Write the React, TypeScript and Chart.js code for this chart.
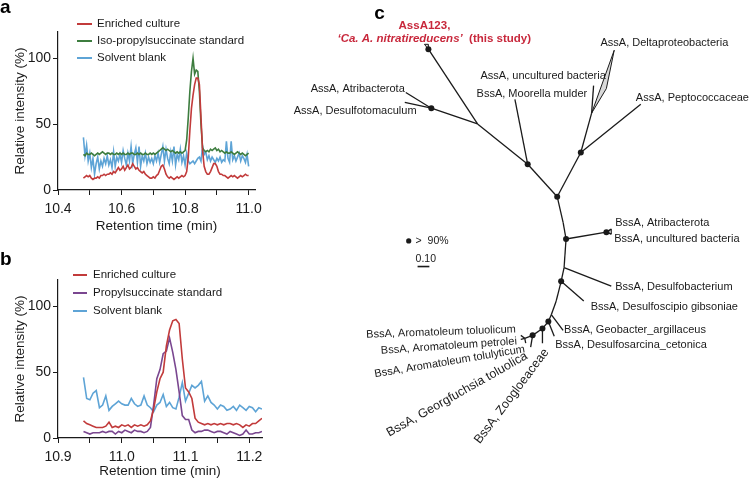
import React, { useEffect, useRef } from 'react';
import { Chart, registerables } from 'chart.js';

Chart.register(...registerables);

const FONT = '"Liberation Sans", Arial, Helvetica, sans-serif';
const INK = '#1a1a1a';
const RED = '#c23b3b';
const GREEN = '#3d7d3f';
const BLUE = '#5ea4d6';
const PURPLE = '#7a4790';
const RED_TEXT = '#c8283c';

// ---------------- Panel a (retention time, min / relative intensity, %) ----------------
const TIME_A = [
  10.48, 10.485, 10.49, 10.495, 10.5, 10.505, 10.51, 10.515, 10.52, 10.525,
  10.53, 10.535, 10.54, 10.545, 10.55, 10.555, 10.56, 10.565, 10.57, 10.575,
  10.58, 10.585, 10.59, 10.595, 10.6, 10.605, 10.61, 10.615, 10.62, 10.625,
  10.63, 10.635, 10.64, 10.645, 10.65, 10.655, 10.66, 10.665, 10.67, 10.675,
  10.68, 10.685, 10.69, 10.695, 10.7, 10.705, 10.71, 10.715, 10.72, 10.725,
  10.73, 10.735, 10.74, 10.745, 10.75, 10.755, 10.76, 10.765, 10.77, 10.775,
  10.78, 10.785, 10.79, 10.795, 10.8, 10.805, 10.81, 10.815, 10.82, 10.825,
  10.83, 10.835, 10.84, 10.845, 10.85, 10.855, 10.86, 10.865, 10.87, 10.875,
  10.88, 10.885, 10.89, 10.895, 10.9, 10.905, 10.91, 10.915, 10.92, 10.925,
  10.93, 10.935, 10.94, 10.945, 10.95, 10.955, 10.96, 10.965, 10.97, 10.975,
  10.98, 10.985, 10.99, 10.995, 11.0,
];
const ENRICHED_A = [
  9, 10, 11, 10, 11, 9, 8, 9, 9, 10,
  9, 11, 11, 12, 11, 12, 12, 13, 12, 14,
  13, 15, 17, 15, 16, 18, 15, 17, 19, 16,
  17, 20, 18, 16, 17, 15, 14, 13, 14, 12,
  11, 10, 9, 9, 10, 9, 11, 12, 15, 18,
  19, 16, 12, 10, 9, 10, 9, 8, 9, 10,
  9, 10, 11, 10, 11, 14, 25, 45, 62, 72,
  80, 85, 85, 80, 55, 30, 18, 14, 12, 12,
  14, 17, 20, 20, 18, 14, 12, 12, 11, 11,
  10, 9, 10, 11, 10, 11, 10, 9, 10, 11,
  10, 11, 12, 11, 11,
];
const ISO_STANDARD_A = [
  27, 26, 28, 27, 27, 28, 27, 26, 27, 28,
  27, 28, 29, 28, 27, 28, 28, 27, 28, 27,
  27, 28, 27, 28, 27, 28, 27, 27, 28, 27,
  28, 28, 27, 27, 28, 27, 28, 27, 27, 28,
  27, 27, 28, 27, 28, 27, 28, 29, 30, 31,
  32, 31, 30, 31, 30, 29, 30, 29, 28, 29,
  28, 29, 28, 29, 30, 38, 55, 75, 90, 100,
  88, 91, 90, 75, 50, 32, 30, 29, 30, 29,
  31, 30, 31, 32, 30, 31, 29, 30, 29, 28,
  29, 28, 28, 29, 28, 27, 28, 29, 28, 27,
  28, 27, 26, 27, 28,
];
const BLANK_A = [
  40, 26, 34, 22, 28, 17, 24, 12, 20, 25,
  16, 22, 18, 24, 20, 26, 19, 23, 17, 29,
  18, 25, 22, 27, 21, 30, 24, 19, 28, 22,
  33, 20, 27, 32, 21, 33, 18, 26, 22, 28,
  20, 25, 21, 24, 20, 26, 22, 28, 21, 27,
  33, 22, 31, 24, 20, 29, 22, 33, 19, 27,
  23, 31, 21, 26, 19, 28, 22, 20, 21, 22,
  20, 22, 24, 25, 22, 33, 27, 29, 23, 26,
  22, 25, 23, 21, 24, 22, 25, 21, 23, 22,
  37, 24, 21, 37, 23, 26, 22, 25, 28, 22,
  26, 24, 21, 27, 18,
];
const LABELS_A = ['Enriched culture', 'Iso-propylsuccinate standard', 'Solvent blank'];

// ---------------- Panel b ----------------
const TIME_B = [
  10.94, 10.945, 10.95, 10.955, 10.96, 10.965, 10.97, 10.975, 10.98, 10.985,
  10.99, 10.995, 11.0, 11.005, 11.01, 11.015, 11.02, 11.025, 11.03, 11.035,
  11.04, 11.045, 11.05, 11.055, 11.06, 11.065, 11.07, 11.075, 11.08, 11.085,
  11.09, 11.095, 11.1, 11.105, 11.11, 11.115, 11.12, 11.125, 11.13, 11.135,
  11.14, 11.145, 11.15, 11.155, 11.16, 11.165, 11.17, 11.175, 11.18, 11.185,
  11.19, 11.195, 11.2, 11.205, 11.21, 11.215, 11.22,
];
const ENRICHED_B = [
  13, 11, 10, 9, 8, 8, 8, 9, 12, 8,
  9, 8, 10, 9, 10, 8, 10, 9, 10, 9,
  10, 13, 22, 35, 45, 50, 70, 82, 89, 90,
  87, 60, 38, 35, 30, 15, 12, 11, 10, 11,
  10, 11, 10, 11, 10, 11, 11, 10, 11, 10,
  8, 10, 9, 11, 11, 13, 15,
];
const PROPYL_STANDARD_B = [
  5, 4, 3, 4, 4, 4, 5, 4, 5, 5,
  3, 5, 4, 6, 5, 4, 6, 5, 5, 4,
  5, 8, 25, 45, 52, 64, 66, 76, 65, 52,
  35, 17, 14, 14, 6, 4, 5, 5, 6, 6,
  5, 4, 5, 5, 4, 3, 5, 4, 3, 2,
  3, 6, 3, 3, 4, 4, 5,
];
const BLANK_B = [
  46, 30, 29, 34, 36, 23, 25, 32, 21, 24,
  26, 28, 26, 25, 25, 30, 26, 24, 25, 32,
  25, 23, 20, 25, 27, 33, 24, 27, 23, 22,
  31, 42, 28, 34, 40, 38, 40, 43, 28, 32,
  27, 25, 22, 25, 24, 21, 22, 24, 21, 25,
  23, 21, 24, 23, 20, 23, 22,
];
const LABELS_B = ['Enriched culture', 'Propylsuccinate standard', 'Solvent blank'];

// ---------------- Panel c (tree) ----------------
const TREE_NODES: [string, number, number][] = [
  ['root', 558, 196], ['A', 528, 163], ['B', 582, 151], ['C', 477, 122],
  ['D', 430, 106], ['ca', 427, 46], ['aAtrib', 404, 90], ['aDesulfot', 403, 100],
  ['moorella', 515, 97], ['J1', 593, 111], ['aUnc', 595, 83], ['pepto', 643, 102],
  ['P1', 564, 222], ['E', 567, 239], ['EB', 608, 232], ['bAtrib', 613, 229], ['bUnc', 613, 234],
  ['P2', 565, 268], ['desulfobact', 613, 287], ['F', 562, 282], ['desulfoscipio', 585, 302],
  ['P3', 557, 302], ['P4', 552, 316], ['geob', 564, 332], ['G', 549, 323], ['desulfosarc', 555, 338],
  ['H', 543, 330], ['zoog', 543, 345], ['I', 533, 337], ['georg', 531, 349], ['K', 525, 340],
  ['aromTol', 521, 337], ['aromPet', 521, 341], ['aromTolu', 526, 345],
];
const TREE_EDGES: [string, string][] = [
  ['root', 'A'], ['root', 'B'], ['A', 'C'], ['C', 'D'], ['C', 'ca'], ['D', 'aAtrib'], ['D', 'aDesulfot'],
  ['A', 'moorella'], ['B', 'J1'], ['J1', 'aUnc'], ['B', 'pepto'],
  ['root', 'P1'], ['P1', 'E'], ['E', 'EB'], ['EB', 'bAtrib'], ['EB', 'bUnc'], ['E', 'P2'], ['P2', 'desulfobact'],
  ['P2', 'F'], ['F', 'desulfoscipio'], ['F', 'P3'], ['P3', 'P4'], ['P4', 'geob'], ['P4', 'G'], ['G', 'desulfosarc'],
  ['G', 'H'], ['H', 'zoog'], ['H', 'I'], ['I', 'georg'], ['I', 'K'], ['K', 'aromTol'], ['K', 'aromPet'], ['K', 'aromTolu'],
];
const SUPPORTED_NODES = ['root', 'A', 'B', 'D', 'ca', 'E', 'EB', 'F', 'G', 'H', 'I'];
const COLLAPSED_CLADES: [number, number][][] = [
  [[593, 111], [616, 47], [608, 86]],
  [[427, 46], [423, 41], [427, 41]],
  [[608, 232], [613, 229], [613, 234]],
];
// [text, x, y, align, angle (deg), font size]
const TREE_LABELS: [string, number, number, CanvasTextAlign, number, number][] = [
  ['AssA, Atribacterota', 403, 86, 'right', 0, 11],
  ['AssA, Desulfotomaculum', 415, 109, 'right', 0, 11],
  ['BssA, Moorella mulder', 476, 92, 'left', 0, 11],
  ['AssA, uncultured bacteria', 480, 73, 'left', 0, 11],
  ['AssA, Deltaproteobacteria', 602, 40, 'left', 0, 11],
  ['AssA, Peptococcaceae', 638, 96, 'left', 0, 11],
  ['BssA, Atribacterota', 617, 223, 'left', 0, 11],
  ['BssA, uncultured bacteria', 616, 239, 'left', 0, 11],
  ['BssA, Desulfobacterium', 617, 288, 'left', 0, 11],
  ['BssA, Desulfoscipio gibsoniae', 592, 308, 'left', 0, 11],
  ['BssA, Geobacter_argillaceus', 565, 332, 'left', 0, 11],
  ['BssA, Desulfosarcina_cetonica', 556, 347, 'left', 0, 11],
  ['BssA, Aromatoleum toluolicum', 516, 331, 'right', -2, 11],
  ['BssA, Aromatoleum petrolei', 517, 343, 'right', -4, 11],
  ['BssA, Aromatoleum tolulyticum', 525, 351, 'right', -9.5, 11],
  ['BssA, Georgfuchsia toluolica', 527, 357, 'right', -29.5, 12.5],
  ['BssA, Zoogloeaceae', 547, 352, 'right', -53, 12.5],
];
const HIGHLIGHT_TITLE = ['AssA123,', '\u2018Ca. A. nitratireducens\u2019', '  (this study)'];
const SUPPORT_LEGEND = '>  90%';
const SCALE_BAR_VALUE = 0.1;
const SCALE_BAR_PX_PER_UNIT = 120;

type Series = { label: string; color: string; data: number[] };
type PanelProps = {
  left: number; top: number; width: number; height: number;
  time: number[]; series: Series[];
  xMin: number; xMax: number; xStep: number;
  area: { left: number; top: number; right: number; bottom: number };
  legend: { x0: number; x1: number; textX: number; rows: number[] };
  letter: { text: string; x: number; y: number };
};

function ChromatogramPanel(p: PanelProps) {
  const ref = useRef<HTMLCanvasElement>(null);
  useEffect(() => {
    const canvas = ref.current;
    if (!canvas) return;
    const overlay = {
      id: 'overlay',
      afterDraw(chart: any) {
        const ctx = chart.ctx as CanvasRenderingContext2D;
        ctx.save();
        chart.data.datasets.forEach((ds: any, i: number) => {
          const y = p.legend.rows[i];
          ctx.strokeStyle = ds.borderColor;
          ctx.lineWidth = 2;
          ctx.beginPath();
          ctx.moveTo(p.legend.x0, y);
          ctx.lineTo(p.legend.x1, y);
          ctx.stroke();
          ctx.fillStyle = INK;
          ctx.font = `11.5px ${FONT}`;
          ctx.textAlign = 'left';
          ctx.textBaseline = 'middle';
          ctx.fillText(ds.label, p.legend.textX, y);
        });
        ctx.fillStyle = '#000';
        ctx.font = `bold 19px ${FONT}`;
        ctx.textBaseline = 'alphabetic';
        ctx.fillText(p.letter.text, p.letter.x, p.letter.y);
        ctx.restore();
      },
    };
    const tickFont = { family: FONT, size: 14 };
    const titleFont = { family: FONT, size: 13.5 };
    const chart = new Chart(canvas, {
      type: 'line',
      data: {
        labels: p.time,
        datasets: p.series.map((s) => ({
          label: s.label,
          data: s.data,
          borderColor: s.color,
          backgroundColor: s.color,
          borderWidth: 1.6,
          pointRadius: 0,
          tension: 0,
          fill: false,
        })),
      },
      options: {
        animation: false,
        responsive: false,
        maintainAspectRatio: false,
        events: [],
        layout: { padding: { top: p.area.top, left: 0, right: p.width - p.area.right, bottom: 0 } },
        plugins: { legend: { display: false }, tooltip: { enabled: false } },
        scales: {
          x: {
            type: 'linear',
            min: p.xMin,
            max: p.xMax,
            ticks: {
              stepSize: p.xStep,
              includeBounds: false,
              autoSkip: false,
              maxRotation: 0,
              padding: 6,
              color: INK,
              font: tickFont,
              callback: (v: any) => {
                const n = Math.round(Number(v) / p.xStep);
                return n % 2 === 0 ? Number(v).toFixed(1) : '';
              },
            },
            grid: { drawOnChartArea: false, drawTicks: true, tickLength: 5, color: INK, lineWidth: 1 },
            border: { display: true, color: INK, width: 1.2 },
            title: { display: true, text: 'Retention time (min)', color: INK, font: titleFont, padding: 0 },
            afterFit: (s: any) => {
              s.height = p.height - p.area.bottom;
              s.paddingLeft = 0;
              s.paddingRight = 0;
            },
          },
          y: {
            type: 'linear',
            min: 0,
            max: 120,
            ticks: { stepSize: 50, includeBounds: false, padding: 2, color: INK, font: tickFont },
            grid: { drawOnChartArea: false, drawTicks: true, tickLength: 5, color: INK, lineWidth: 1 },
            border: { display: true, color: INK, width: 1.2 },
            title: {
              display: true,
              text: 'Relative intensity (%)',
              color: INK,
              font: titleFont,
              padding: { top: 12, bottom: 0 },
            },
            afterFit: (s: any) => {
              s.width = p.area.left;
              s.paddingTop = 0;
              s.paddingBottom = 0;
            },
          },
        },
      },
      plugins: [overlay],
    } as any);
    return () => chart.destroy();
  }, []);
  return (
    <canvas
      ref={ref}
      width={p.width}
      height={p.height}
      style={{ position: 'absolute', left: p.left, top: p.top, width: p.width, height: p.height }}
    />
  );
}

function TreePanel() {
  const ref = useRef<HTMLCanvasElement>(null);
  const left = 270;
  const width = 480;
  const height = 479;
  useEffect(() => {
    const canvas = ref.current;
    if (!canvas) return;
    const nodes = new Map<string, { x: number; y: number }>();
    TREE_NODES.forEach(([id, x, y]) => nodes.set(id, { x, y }));
    const edgeSets = TREE_EDGES.map(([a, b]) => ({
      data: [nodes.get(a), nodes.get(b)],
      showLine: true,
      borderColor: INK,
      borderWidth: 1.3,
      pointRadius: 0,
    }));
    const dotSet = {
      data: SUPPORTED_NODES.map((id) => nodes.get(id)),
      showLine: false,
      pointRadius: 3,
      pointBackgroundColor: INK,
      pointBorderColor: INK,
      pointBorderWidth: 0,
    };
    const legendDot = {
      data: [{ x: 407, y: 241 }],
      showLine: false,
      pointRadius: 2.6,
      pointBackgroundColor: INK,
      pointBorderWidth: 0,
    };
    const scaleBar = {
      data: [
        { x: 416, y: 267 },
        { x: 416 + SCALE_BAR_VALUE * SCALE_BAR_PX_PER_UNIT, y: 267 },
      ],
      showLine: true,
      borderColor: INK,
      borderWidth: 1.6,
      pointRadius: 0,
    };
    const decor = {
      id: 'treeDecor',
      beforeDatasetsDraw(chart: any) {
        const ctx = chart.ctx as CanvasRenderingContext2D;
        const xs = chart.scales.x;
        const ys = chart.scales.y;
        ctx.save();
        COLLAPSED_CLADES.forEach((tri) => {
          ctx.beginPath();
          tri.forEach(([x, y], i) => {
            const px = xs.getPixelForValue(x);
            const py = ys.getPixelForValue(y);
            if (i === 0) ctx.moveTo(px, py);
            else ctx.lineTo(px, py);
          });
          ctx.closePath();
          ctx.fillStyle = '#d9d9d9';
          ctx.fill();
          ctx.strokeStyle = INK;
          ctx.lineWidth = 1;
          ctx.stroke();
        });
        ctx.restore();
      },
      afterDatasetsDraw(chart: any) {
        const ctx = chart.ctx as CanvasRenderingContext2D;
        const xs = chart.scales.x;
        const ys = chart.scales.y;
        ctx.save();
        ctx.fillStyle = INK;
        ctx.textBaseline = 'middle';
        TREE_LABELS.forEach(([text, x, y, align, angle, size]) => {
          ctx.save();
          ctx.translate(xs.getPixelForValue(x), ys.getPixelForValue(y));
          ctx.rotate((angle * Math.PI) / 180);
          ctx.textAlign = align;
          ctx.font = `${size}px ${FONT}`;
          ctx.fillText(text, 0, 0);
          ctx.restore();
        });
        // highlighted leaf title
        ctx.fillStyle = RED_TEXT;
        ctx.textAlign = 'center';
        ctx.font = `bold 11.5px ${FONT}`;
        ctx.fillText(HIGHLIGHT_TITLE[0], xs.getPixelForValue(423), ys.getPixelForValue(22));
        const parts = [
          { t: HIGHLIGHT_TITLE[1], f: `italic bold 11.5px ${FONT}` },
          { t: HIGHLIGHT_TITLE[2], f: `bold 11.5px ${FONT}` },
        ];
        let total = 0;
        const widths = parts.map((pt) => {
          ctx.font = pt.f;
          const w = ctx.measureText(pt.t).width;
          total += w;
          return w;
        });
        let cx = xs.getPixelForValue(433) - total / 2;
        ctx.textAlign = 'left';
        parts.forEach((pt, i) => {
          ctx.font = pt.f;
          ctx.fillText(pt.t, cx, ys.getPixelForValue(35));
          cx += widths[i];
        });
        // support legend and scale bar label
        ctx.fillStyle = INK;
        ctx.font = `10.5px ${FONT}`;
        ctx.fillText(SUPPORT_LEGEND, xs.getPixelForValue(414), ys.getPixelForValue(241));
        ctx.fillText(SCALE_BAR_VALUE.toFixed(2), xs.getPixelForValue(414), ys.getPixelForValue(259));
        // panel letter
        ctx.fillStyle = '#000';
        ctx.font = `bold 19px ${FONT}`;
        ctx.textBaseline = 'alphabetic';
        ctx.fillText('c', xs.getPixelForValue(372), ys.getPixelForValue(15));
        ctx.restore();
      },
    };
    const chart = new Chart(canvas, {
      type: 'scatter',
      data: { datasets: [...edgeSets, dotSet, legendDot, scaleBar] },
      options: {
        animation: false,
        responsive: false,
        maintainAspectRatio: false,
        events: [],
        layout: { padding: 0 },
        plugins: { legend: { display: false }, tooltip: { enabled: false } },
        scales: {
          x: { type: 'linear', min: left, max: left + width, display: false },
          y: { type: 'linear', min: 0, max: height, reverse: true, display: false },
        },
      },
      plugins: [decor],
    } as any);
    return () => chart.destroy();
  }, []);
  return (
    <canvas
      ref={ref}
      width={width}
      height={height}
      style={{ position: 'absolute', left, top: 0, width, height }}
    />
  );
}

export default function App() {
  const seriesA: Series[] = [
    { label: LABELS_A[0], color: RED, data: ENRICHED_A },
    { label: LABELS_A[1], color: GREEN, data: ISO_STANDARD_A },
    { label: LABELS_A[2], color: BLUE, data: BLANK_A },
  ];
  const seriesB: Series[] = [
    { label: LABELS_B[0], color: RED, data: ENRICHED_B },
    { label: LABELS_B[1], color: PURPLE, data: PROPYL_STANDARD_B },
    { label: LABELS_B[2], color: BLUE, data: BLANK_B },
  ];
  return (
    <div style={{ position: 'absolute', left: 0, top: 0, width: 750, height: 479, background: '#fff', overflow: 'hidden' }}>
      <ChromatogramPanel
        left={0}
        top={0}
        width={268}
        height={234}
        time={TIME_A}
        series={seriesA}
        xMin={10.4}
        xMax={11.02}
        xStep={0.1}
        area={{ left: 58, top: 32, right: 255, bottom: 190 }}
        legend={{ x0: 77, x1: 92, textX: 97, rows: [24, 41, 58] }}
        letter={{ text: 'a', x: 0, y: 13 }}
      />
      <ChromatogramPanel
        left={0}
        top={232}
        width={268}
        height={247}
        time={TIME_B}
        series={seriesB}
        xMin={10.9}
        xMax={11.22}
        xStep={0.05}
        area={{ left: 58, top: 48, right: 262, bottom: 206 }}
        legend={{ x0: 73, x1: 87, textX: 93, rows: [43, 61, 79] }}
        letter={{ text: 'b', x: 0, y: 33 }}
      />
      <TreePanel />
    </div>
  );
}
